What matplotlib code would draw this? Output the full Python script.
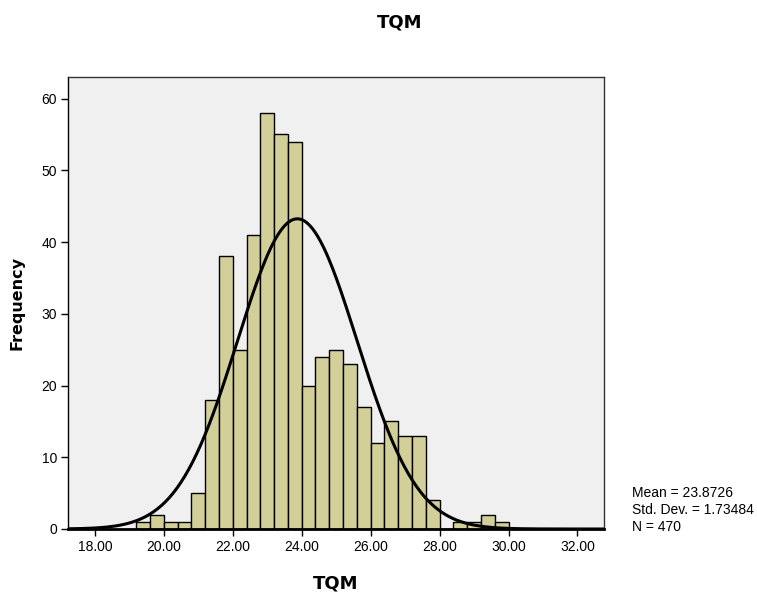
import numpy as np
import matplotlib.pyplot as plt

plt.rcParams['font.family'] = ['Liberation Sans', 'DejaVu Sans']

# histogram of TQM scores, bins of width 0.4 starting at 19.2
bin_start = 19.2
bin_width = 0.4
counts = [1, 2, 1, 1, 5, 18, 38, 25, 41, 58, 55, 54,
          20, 24, 25, 23, 17, 12, 15, 13, 13, 4, 0, 1, 1, 2, 1]
mean = 23.8726
std = 1.73484
n = 470

edges = bin_start + bin_width * np.arange(len(counts) + 1)

fig = plt.figure(figsize=(7.57, 5.97), dpi=100)
ax = fig.add_axes([68 / 757, 68 / 597, 536 / 757, 452 / 597])
ax.set_facecolor('#F0F0F0')

ax.bar(edges[:-1], counts, width=bin_width, align='edge',
       color='#D3CF98', edgecolor='black', linewidth=1.0)

# normal curve scaled to counts
x = np.linspace(17.2, 32.8, 400)
y = n * bin_width / (std * np.sqrt(2 * np.pi)) * np.exp(-0.5 * ((x - mean) / std) ** 2)
ax.plot(x, y, color='black', linewidth=2.2)

ax.set_xlim(17.22, 32.77)
ax.set_ylim(0, 63)
ax.set_xticks(np.arange(18, 33, 2))
ax.set_xticklabels(['%.2f' % t for t in np.arange(18, 33, 2)])
ax.set_yticks(np.arange(0, 61, 10))
ax.tick_params(direction='out', length=5, width=1, labelsize=10, pad=3)

for s in ['top', 'right']:
    ax.spines[s].set_color('#333333')
    ax.spines[s].set_linewidth(1)
ax.spines['bottom'].set_linewidth(2)
ax.spines['left'].set_linewidth(1)

bold = dict(family='DejaVu Sans', fontweight='bold')
ax.set_xlabel('TQM', fontsize=13, labelpad=15, **bold)
ax.set_ylabel('Frequency', fontsize=11.5, labelpad=12, **bold)
fig.text(400 / 757, 1 - 22 / 597, 'TQM', ha='center', va='center',
         fontsize=13, **bold)

fig.text(632 / 757, 1 - 510 / 597,
         'Mean = %.4f\nStd. Dev. = %.5f\nN = %d' % (mean, std, n),
         ha='left', va='center', fontsize=10, linespacing=1.25)

fig.savefig('out.png', dpi=100)
